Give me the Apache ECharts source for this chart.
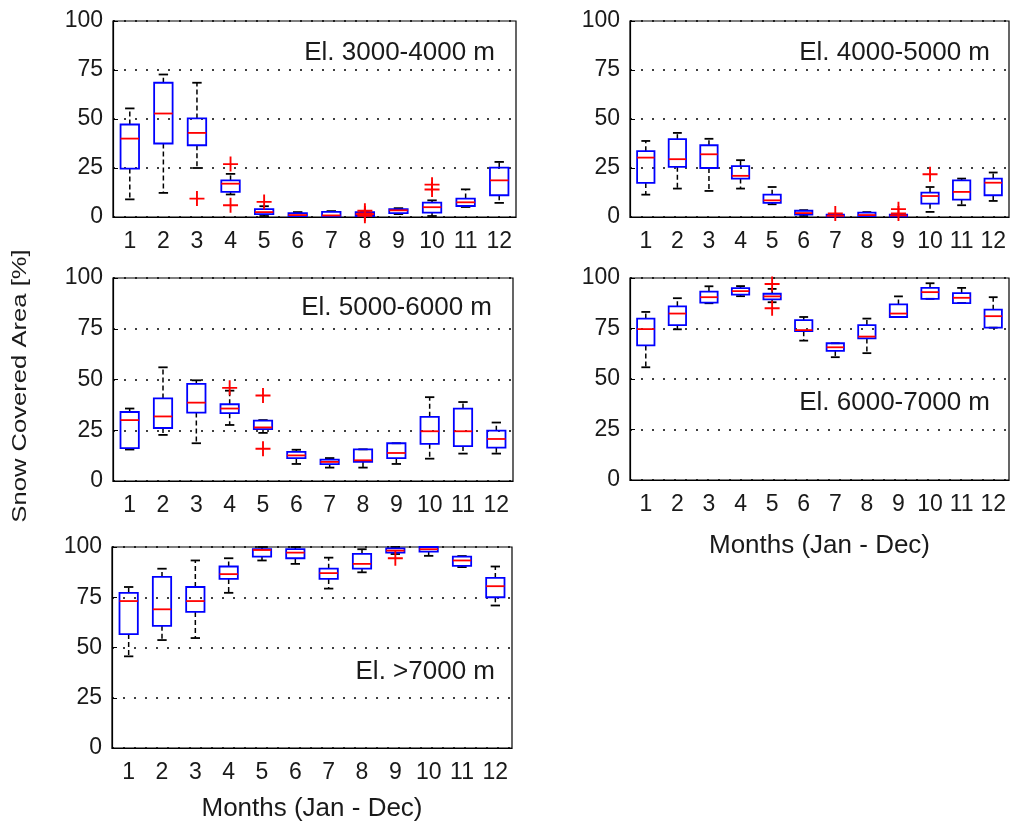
<!DOCTYPE html>
<html>
<head>
<meta charset="utf-8">
<script src="https://cdn.jsdelivr.net/npm/echarts@6/dist/echarts.min.js"></script>
<style>
html,body{margin:0;padding:0;background:#fff;}
#chart{width:1011px;height:825px;}
</style>
</head>
<body>
<div id="chart"></div>
<script>
// ---------- data ----------
const months = ['1','2','3','4','5','6','7','8','9','10','11','12'];
const yTicks = [0, 25, 50, 75, 100];
const panelLabels = ['El. 3000-4000 m', 'El. 4000-5000 m', 'El. 5000-6000 m', 'El. 6000-7000 m', 'El. >7000 m'];
const xTitle = 'Months (Jan - Dec)';
const yTitle = 'Snow Covered Area [%]';

// [min, q1, median, q3, max] per month
const el3000 = [
  [9, 24.7, 40, 47.2, 55.4],
  [12.3, 37.5, 52.8, 68.5, 72.7],
  [25, 36.6, 42.9, 50.3, 68.5],
  [11.5, 12.8, 17, 18.7, 22],
  [0.5, 1.5, 2.5, 4, 5.5],
  [0, 0.4, 1, 2, 2.5],
  [0, 0.3, 0.8, 2.6, 3],
  [0, 0.5, 1.5, 2.5, 3],
  [1.5, 2, 3.4, 4, 4.5],
  [0.5, 2.2, 5, 7.3, 8.5],
  [5.1, 5.6, 7.5, 9.4, 14.1],
  [7.2, 11.1, 18.7, 25.2, 28.1]
];
const el4000 = [
  [11.4, 17.4, 30.3, 33.6, 38.8],
  [14.5, 25.6, 29.5, 39.7, 42.9],
  [13.3, 25, 32, 36.6, 39.9],
  [14.5, 19.6, 21, 26, 29],
  [6.5, 7.2, 8.5, 11.4, 15.3],
  [0.5, 1.2, 2, 3.2, 3.5],
  [0, 0.3, 0.6, 1.2, 1.5],
  [0, 0.5, 1, 2.2, 2.5],
  [0, 0.3, 0.8, 1.2, 1.5],
  [2.6, 6.8, 10.7, 12.4, 15.3],
  [6, 8.9, 12.8, 18.7, 19.6],
  [8.2, 11.1, 17.5, 19.6, 22.7]
];
const el5000 = [
  [15.5, 16.2, 30, 34, 35.7],
  [22.7, 26.1, 31.8, 40.7, 56],
  [18.6, 33.7, 38.6, 47.8, 49.6],
  [27.6, 33.4, 35.7, 37.8, 44.5],
  [23.7, 25.6, 26.4, 29.7, 30],
  [8.4, 11.3, 12.6, 14.3, 15.4],
  [6.6, 8.3, 9.4, 10.5, 11.3],
  [6.6, 9.4, 10.2, 15.6, 15.6],
  [8.4, 11.3, 13.8, 18.6, 18.6],
  [11, 18.3, 24.5, 31.6, 41.3],
  [13.5, 17.2, 24.5, 35.7, 38.9],
  [13.5, 16.4, 20.7, 24.8, 28.8]
];
const el6000 = [
  [55.8, 66.6, 74.7, 79.9, 83.2],
  [74.6, 76.7, 82.4, 86, 90],
  [87.5, 87.8, 90.5, 93.3, 95.9],
  [91, 91.8, 93.5, 95, 96],
  [88, 89.4, 90.9, 92.2, 94.6],
  [69, 73.7, 74.2, 79.1, 80.7],
  [60.8, 63.9, 65.7, 67.7, 67.7],
  [62.8, 70.1, 71, 76.7, 79.9],
  [80.7, 80.7, 82.4, 86.9, 90.9],
  [89.7, 89.7, 93, 95.1, 97.4],
  [87.6, 87.6, 90.2, 92.5, 95.1],
  [75.4, 75.4, 81.1, 84.3, 90.5]
];
const el7000 = [
  [45.6, 56.7, 73.1, 77.2, 80.1],
  [53.7, 60.8, 69, 85.1, 89.2],
  [54.7, 67.7, 73.1, 80.1, 93.3],
  [77.2, 84.1, 86.5, 90.3, 94.4],
  [93.3, 95.2, 98.5, 98.9, 100],
  [91.6, 94.4, 97.2, 98.9, 100],
  [79.3, 84.1, 87, 89.2, 94.7],
  [87.4, 89.2, 91.6, 96.6, 98.9],
  [96.5, 97.2, 98.2, 99.3, 100],
  [95.6, 97.7, 98.9, 100, 100],
  [90, 90.6, 93.3, 95.2, 95.5],
  [70.9, 75, 80.5, 84.6, 90.3]
];

// outliers: [month, value]
const out3000 = [[3, 9.4], [4, 27], [4, 6], [5, 7.7], [8, 3.2], [8, 1.8], [8, 0.6], [10, 16.5], [10, 14]];
const out4000 = [[7, 1.8], [9, 4], [9, 1.8], [10, 21.8]];
const out5000 = [[4, 45.9], [5, 42.1], [5, 15.9]];
const out6000 = [[5, 97], [5, 85]];
const out7000 = [[9, 94.4]];

// ---------- layout ----------
const panels = [
  { box: el3000, out: out3000, grid: { left: 113, top: 21, width: 403, height: 196 }, label: [495, 53], xName: false, gap: 50 },
  { box: el4000, out: out4000, grid: { left: 630, top: 21, width: 379, height: 196 }, label: [990, 53], xName: false, gap: 50 },
  { box: el5000, out: out5000, grid: { left: 113, top: 278, width: 400, height: 203 }, label: [492, 308], xName: false, gap: 50 },
  { box: el6000, out: out6000, grid: { left: 630, top: 278, width: 379, height: 202 }, label: [990, 403], xName: true, gap: 53 },
  { box: el7000, out: out7000, grid: { left: 112, top: 547, width: 400, height: 201 }, label: [495, 672], xName: true, gap: 48 }
];

const FONT = "'Liberation Sans', Arial, sans-serif";
const TXT = '#1a1a1a';

function renderBox(params, api) {
  const idx = api.value(0);
  const mn = api.value(1), q1 = api.value(2), md = api.value(3), q3 = api.value(4), mx = api.value(5);
  const band = api.size([1, 0])[0];
  const bw = band * 0.55, cw = band * 0.28;
  const pMin = api.coord([idx, mn]);
  const pQ1 = api.coord([idx, q1]);
  const pMd = api.coord([idx, md]);
  const pQ3 = api.coord([idx, q3]);
  const pMax = api.coord([idx, mx]);
  const x = pMin[0];
  const wStyle = { stroke: '#000', lineWidth: 1.5, lineDash: [5, 3] };
  const cStyle = { stroke: '#000', lineWidth: 1.8 };
  return {
    type: 'group',
    children: [
      { type: 'line', shape: { x1: x, y1: pQ3[1], x2: x, y2: pMax[1] }, style: wStyle },
      { type: 'line', shape: { x1: x, y1: pQ1[1], x2: x, y2: pMin[1] }, style: wStyle },
      { type: 'line', shape: { x1: x - cw / 2, y1: pMax[1], x2: x + cw / 2, y2: pMax[1] }, style: cStyle },
      { type: 'line', shape: { x1: x - cw / 2, y1: pMin[1], x2: x + cw / 2, y2: pMin[1] }, style: cStyle },
      { type: 'rect', shape: { x: x - bw / 2, y: pQ3[1], width: bw, height: pQ1[1] - pQ3[1] },
        style: { fill: 'none', stroke: '#0000ff', lineWidth: 1.8 } },
      { type: 'line', shape: { x1: x - bw / 2, y1: pMd[1], x2: x + bw / 2, y2: pMd[1] },
        style: { stroke: '#ff0000', lineWidth: 1.8 } }
    ]
  };
}

const grids = [], xAxes = [], yAxes = [], series = [], graphics = [];
panels.forEach((p, i) => {
  grids.push(Object.assign({ show: true, borderColor: '#000', borderWidth: 1.2, backgroundColor: '#fff' }, p.grid));
  xAxes.push({
    type: 'category', gridIndex: i, data: months, boundaryGap: true,
    axisLine: { show: true, lineStyle: { color: '#000', width: 1.2 } },
    axisTick: { show: false },
    axisLabel: { interval: 0, fontSize: 23, color: TXT, fontFamily: FONT, margin: 13 },
    splitLine: { show: false },
    name: p.xName ? xTitle : '', nameLocation: 'middle', nameGap: p.gap,
    nameTextStyle: { fontSize: 26, color: TXT, fontFamily: FONT }
  });
  yAxes.push({
    type: 'value', gridIndex: i, min: yTicks[0], max: yTicks[yTicks.length - 1], interval: 25,
    axisLine: { show: true, lineStyle: { color: '#000', width: 1.2 } },
    axisTick: { show: true, inside: true, length: 5, lineStyle: { color: '#000' } },
    axisLabel: { fontSize: 23, color: TXT, fontFamily: FONT, margin: 10 },
    splitLine: { show: true, lineStyle: { color: '#000', type: [2, 9], width: 1.6 } }
  });
  series.push({
    type: 'custom', xAxisIndex: i, yAxisIndex: i,
    renderItem: renderBox,
    encode: { x: 0, y: [1, 2, 3, 4, 5] },
    data: p.box.map((r, k) => [k].concat(r)),
    z: 3
  });
  series.push({
    type: 'scatter', xAxisIndex: i, yAxisIndex: i,
    symbol: 'path://M7,0h2v7h7v2h-7v7h-2v-7h-7v-2h7z',
    symbolSize: 15,
    itemStyle: { color: '#ff0000', opacity: 1 },
    data: p.out.map(o => [o[0] - 1, o[1]]),
    z: 4
  });
  graphics.push({
    type: 'text', x: p.label[0], y: p.label[1],
    style: { text: panelLabels[i], fontSize: 26, fontFamily: FONT, fill: TXT, textAlign: 'right', textVerticalAlign: 'middle' },
    z: 10
  });
});
graphics.push({
  type: 'text', x: 20, y: 386, rotation: Math.PI / 2, scaleX: 1.22,
  style: { text: yTitle, fontSize: 21, fontFamily: FONT, fill: TXT, textAlign: 'center', textVerticalAlign: 'middle' }
});

const chart = echarts.init(document.getElementById('chart'), null, { renderer: 'canvas' });
chart.setOption({
  backgroundColor: '#fff',
  animation: false,
  grid: grids,
  xAxis: xAxes,
  yAxis: yAxes,
  series: series,
  graphic: graphics
});
</script>
</body>
</html>
